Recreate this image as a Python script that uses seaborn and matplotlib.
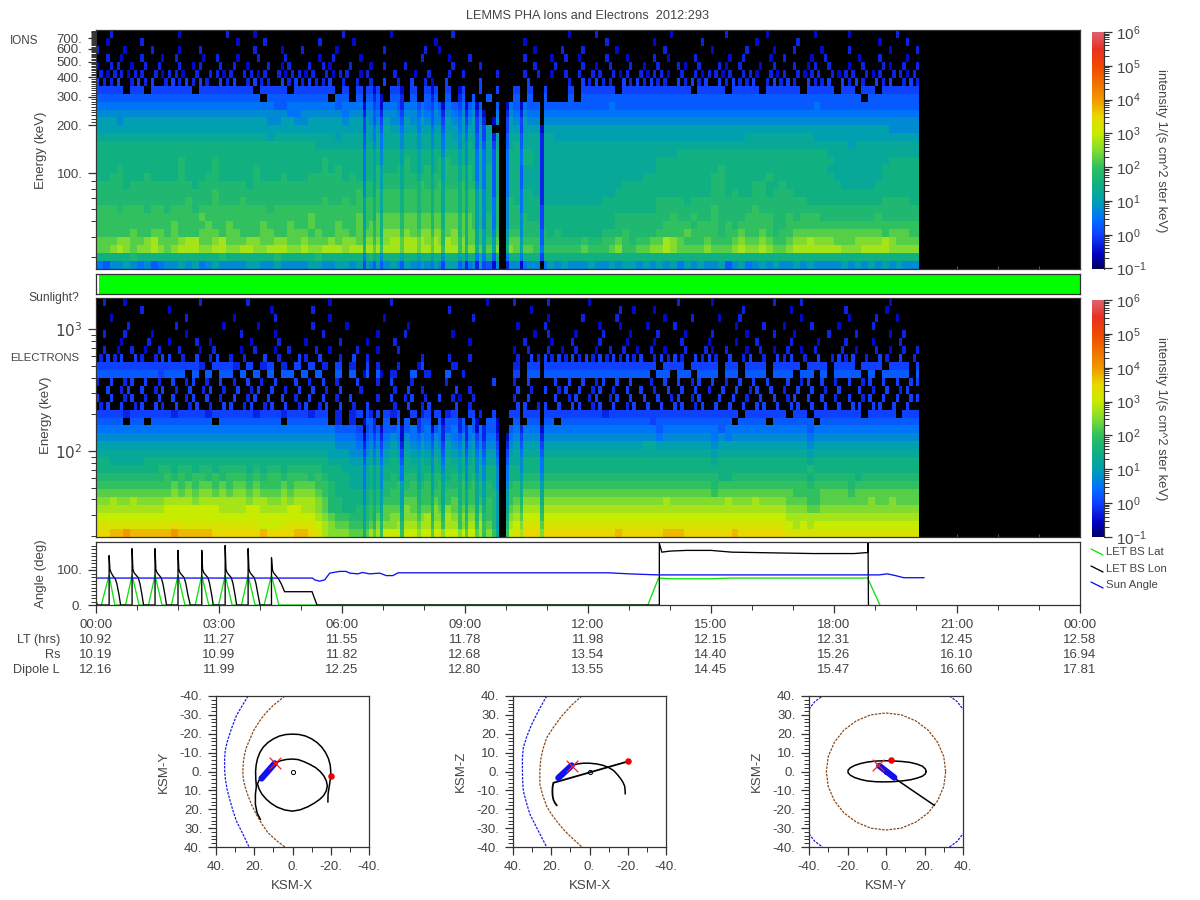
import numpy as np
import pandas as pd
import seaborn as sns
import matplotlib
matplotlib.use("Agg")
import matplotlib.pyplot as plt
from matplotlib.colors import LinearSegmentedColormap, LogNorm
from matplotlib.lines import Line2D

sns.set_theme(style="white")
plt.rcParams["font.family"] = ["Liberation Sans", "DejaVu Sans"]
plt.rcParams["font.size"] = 9.5
plt.rcParams["axes.unicode_minus"] = False

TXT = "#444444"
EDGE = "#333333"
MAJOR = 5.8
MINOR = 3.4

# spectrogram cells: one char per 10 minutes, high energy at the top
# value is int(char, 36) quarter decades above 10^-0.5, '.' means no counts
ion_rows = [
    "..1....... ..0......1 ...0...... ......1... ...0...... ..1....... .........0 ...1...... ....0..... ..1.....0. .....0.... 0......1.. .",
    ".0....1... .......... 0...1..... ..1....0.. .1.......0 ......1... ..0....... ....1..... .0......1. ......0... ..1....... ....0...1. .",
    "1...0...1. ..0..1.... ...1...0.. 1....0.... ..1.....1. 0...1..... ....0...1. .1....0... ...1...... 0....1...0 ..1...0... 1.....0... 1",
    ".1.0..1..0 .1...0.1.. 0..1...1.. ..0.1...0. 1...0..1.. .0..1.0... ..1...0.1. 0...1..0.. .1.0...1.. ..0.1...0. 1...0.1... .0..1...0. 0",
    "0.11.0.1.1 ..1.01..1. 1.0..1.01. .1.10..1.. 0.1..1.0.1 ..1.0.1... 1...10.1.. .1.0.1..1. 0.1..10.1. .10.1..0.1 ..1.01.1.. 0.1..10.1. 1",
    "1011011.10 110.1.1101 .1101.1011 01.1011.01 10.11.0.1. .1.1..1.1. ..1.1.0.1. 1.11.101.1 0110.1.101 101.110.10 1.1011.101 1.101.1101 1",
    "2112.1212. 1212121.21 2.1211.212 12112.1.12 1.2.1.2.12 .2.1..2.2. ...2.1...1 .21211.212 1211.21212 .212112.12 121.2112.2 121.212.12 1",
    "2222.22.22 2222.22222 222.2222.2 22222.2.22 22.22.2.22 .2.2..2.2. .2.2.2...2 .22222.222 2222222.22 22.2222.22 222.2222.2 2.22.22222 2",
    "3333333333 3333333333 3333.33333 3333.33.33 33.33.3.33 .3.3.3.3.. .3.3.3...3 .333333333 3333333333 3333333333 3333333333 33.3333333 3",
    "4444444444 4444444444 4444443344 4444434444 4344344434 3434343.3. 4343333333 3333343333 3333333333 3333333333 3333343333 3333333333 3",
    "5555555555 5555555555 5555555544 5555554555 5455455545 4545454.4. 5454444444 4444444444 4444444444 4444444444 4444444444 4444444444 4",
    "6665666666 6666666666 6666655665 5666665666 5565565655 5656565.5. 6565555555 5555555555 5555555555 5555555555 5555555555 5555555555 5",
    "6666666666 6666666666 6666666666 6666666666 6676666666 66666666.. 6666666666 6666666666 6666666666 6666666666 6666666666 6666665555 5",
    "7777777777 7777777777 7777767777 7777767777 6777777777 776777666. 7777777666 6666666666 6666666666 6666677777 7777766666 6666666666 6",
    "8888888888 8888888888 8888888888 8877777777 7777777777 777787777. 7877777777 7777777777 7777777777 7777777777 7777777777 6777777777 7",
    "8888888888 8888888888 8888888888 8888888888 8888888888 888888878. 8888777777 7777777777 7777788888 8888888888 8888888777 7777777777 7",
    "8888888888 8898888988 8888888888 8889888888 8888898888 998888878. 8888777777 7777777777 7788888888 8888888888 8888888877 7777778888 8",
    "8889888888 8898888988 8889888888 8889898888 8988998898 999998888. 8877777777 7777777777 7788888888 8988888888 8888888777 7777788888 8",
    "8899888988 8898889988 8889888988 8999998988 8999999999 999998888. 8877777777 7777777777 8888888888 9988888898 8888888877 7777788888 8",
    "9999899999 9999899999 9989999999 9999999999 9999999a99 a99a99888. 8877777777 7777777888 8888888888 9988889988 9888888887 7777888888 8",
    "9999999999 9999999a99 9999999999 99999999a9 9aaaaaaaaa aaaaaa988. 8888777777 7777778888 8888888888 9989889989 9988888888 8888888888 8",
    "9999999999 999a999a99 9a99999999 999a99a9aa aaaaaaaaaa aaaaaa989. 9888877777 7777888888 8899998999 9999999999 9999888888 8888899998 8",
    "aaa9aaa9aa 9aaa9aaaaa aaaaa9aaaa aaaaaaaaaa aaaaaaaaaa aaaaaa989. 9988888888 8888888888 8899999999 a99999a999 9999999999 9999999999 9",
    "aaaaaaaaaa aaaaabaaaa aaaaaaaaaa abaaaaaaba abbbbbbbbb bbbbba999. 9998888888 8888889999 9999a99a99 a9999aaaa9 9a9aaa9999 9999a99999 9",
    "aaaaaaaaaa abaaaabaab aaaabaaaba abaaabaaba bbbbbbbbbb bbbbba999. 9999988888 8888889999 999aaaa9aa a9a9aaaaa9 9aaaaaaaaa aaaaaaaaaa a",
    "aaaaabaabb abaaabbbab baaabbaabb babaabbabb bbccccbccc cbcbbba9a. aa99998988 8888999a99 99aaaabaaa a9aabaaba9 aabbbbbbbb bbbbbabbba a",
    "bbbccbbcdb bbcddbbcdb bbccbbccbb cbbbcbccbc cccdddddcd cdccbbaab. bbaaa99999 9a99aaba9a abbdcbaaab aaabcbbcba abccdcccbb bccccdcbbb b",
    "bbcdcbccdc bcdddccddc cddccdddcc dccdddcddd dddddddddd dddcccbbc. cbbbaaaaaa abaaabcaab bccdcbbbbc bbbcdccdcb bcdddddddc ccddddcccc c",
    "8888898888 8888888898 8888889888 8898888888 9888888888 888888888. 8888888888 8888888888 8888888888 8888888888 8888888888 8888888888 8",
    "4355654534 5565645655 5566556555 5665566566 5656565656 566545635. 5545546565 5565565665 6565646565 5635645656 5565655556 5656565655 5",
]
electron_rows = [
    ".1..0..... .....1.... ..1....... ....0..... ...1...... .......0.. .1....1... ..0....... .....1.... 0........1 ...1...... ......0... .",
    "......1... 0......... .....0.... .1........ .......... .1........ ...0...... ......1.0. .0........ ....1..... .0.......1 .....0.... .",
    "..0....... ...1...... 0.....1... ....0..... ..0....... .....1.... 0.....0... .1....1... ...0...1.. .0..1..... ...0...... 0...1..0.. .",
    "....1..... .1......0. ...0...... .1....0... .....0.... .......... .0...1.... ...0..0... 0...1..... ...0...1.. 0...1...0. ...1...... 0",
    ".1..1...0. ...0...... .1....0... ...1...... .0...1.... ..0....... ....0.1... 0...1...0. ..1...0... 1....0...1 ..0....1.. .1....0.1. .",
    "...0...1.. 0...1.0... ..0...1... 0....1...0 ...1...... 0...0..... ..1...0..1 ...1...0.. .0...1...0 ...0..1... .1...0...1 ...0...1.. 1",
    ".1.0.1.0.1 ..1..0.1.. .0.1..0.1. ..1.0...1. .0..1..0.. ...1...... .0.1..1.0. 1..0.1.1.0 .1.0..1..1 0.1..0.1.0 .1.0.1...1 .0..1.0.1. 1",
    "1212.21.12 2.1.2.12.1 .1..2.1..2 1.2..1.2.1 ....1..1.. .1..1..... .1.2121212 1212121212 .12121.212 1.2.12.1.2 12.1.2.121 2.1.21.2.1 2",
    "2222222222 222221.222 1.2.12.1.2 .2.1.2.1.2 .1..1..2.. ..1....... .1.2222222 2222222222 22.222.222 2.22.222.2 222.222.22 2.222.222. 2",
    "3333333332 333.3.3.33 .3.3.3.33. 3.3..3.3.3 .3.1..3.1. .3.1...... .2.3333333 3333333333 3.33.33.33 3.33.333.3 33.33.3.33 33.3.3333. 3",
    "1.2.12.2.1 .2.12.1.2. 1.2.1.2..2 .1.2.1..2. .1.2..1... .1......2. .1.2.1.2.2 .2.12.2.2. .1.2.2.12. 2.1.2.2.2. .2.12.2.1. 2.12.2.2.2 2",
    ".2.12.2.12 .1.2.12.1. 2.12.2.1.2 .2.1.2..1. .2.1.2.1.. 1.2.1...1. .2.1.2.12. 2.12.1.2.2 .1.2.2.2.1 .2.2.12.2. 1.2.2.1.2. .2.1.2.12. 2",
    "2.2.12.1.2 .2.12.2.1. 2.12.2.2.1 .2.2.1.2.1 .1.2.12.1. 2.12.1.... .1.2.2.2.1 2.12.12.2. 2.2.12.12. .2.2.1.2.2 .12.2.2.1. 2.12.2.2.2 2",
    "12.2.12.21 .2.12.1.22 .12.12.2.1 2.12.2.1.2 .2.1.2.12. 2.2.12.... .22.12.2.2 2.12.2.12. 2.2.22.12. 2.2.2.22.2 .22.2.2.2. 22.22.2.2. 2",
    "2222122222 2122221222 2221222122 2122.1.122 12212.2122 212.221.2. 2222222222 2222122222 2222222222 2222.22222 2.22.22222 22.2222.22 2",
    "3333.33.33 3333333.33 3333333.33 3333.1.1.3 3.3.33.33. 3333.3.33. .3.3333.33 3333333333 3233333333 333.3333.3 33333.3333 3333333333 3",
    "4444444444 4444444444 4444444444 4444433322 3333434343 434343433. 3444444444 4444444444 4434444444 4344444444 4444344444 4444444444 4",
    "5555555555 5555555555 5555555555 5555544433 4445454545 454545444. 4555555555 5555555555 5545555555 4545555555 5555455555 5555555555 5",
    "6666666666 6666666666 6666666666 6666655544 5556565656 565656555. 5666666666 6666666666 7766666666 5666666666 6666566666 6666666666 6",
    "7777777777 7777777777 7777777777 7777666555 6667676767 676767666. 6777777777 7777777777 7777777777 6777777777 7777677777 7777777777 7",
    "8877777888 8888888888 8888888888 8888777666 7778787878 787878777. 7788888888 8888888888 8888888888 7888888888 8888788888 8888888888 8",
    "8888888889 9899899899 9989899899 9998887777 8888888888 888888888. 8888888888 8888888888 8888888888 8888888888 8888988888 8888888888 8",
    "9999999999 a9a9aa9a9a aa9a9aa9aa a9a9888777 8889899899 989989888. 8899999999 9999999999 9999999999 9889999999 9999899999 9899999999 9",
    "aaaaaaaaaa abababbaba bbabaaabab bbaa988777 8899a9a9a9 a99a9a998. 9aaaaaaaaa aaaaaaaaaa aaaaaaaaaa 9aaaaaaaaa aaaa9aaaaa 9aaaaaaaaa a",
    "bbbbbbbbbb bcbcbccbcb ccbcbbbcbc ccba988888 999aaaaaaa aaaaaa999. aabbbbbbbb bbbbbbbbbb bbbbbbbbbb abbbbbbbbb bbaaaabbbb abbbbbbbbb b",
    "ccdccdcccc ddddcddddd ddcddccdcd ddcb998888 99aaabbaab aabaaaaa9. abcccccccc cccccccccc cccdcccccc ccdcccdccc cbbbaabbbb bbbcbbcbbb b",
    "dddddddddd eeeeeeeedd ddeeddddee ddcb998899 aabbbcbbbc bcbbbbba9. bcdddddddd dddddddddd dddddddddd dddddddddd dcccbbcccc cccccccccc c",
    "eeeeeeeeee eeeeeeeeee eeeeeeeeee eedcbaa999 abbcccccdc cdccccca9. cdeeeeeeee eeeeeeeeee eeeeeeeeee eeeeeeeeee eddddddddd dddddddddd d",
    "ffffffffff fgffffffff ffffeeefff ffedcbbaaa bcccdddddd dddcdddb9. deffffffff ffffffffff ffffffffff ffffffffff fededeeeee eeeeeeeeee e",
    "gghhihhhhh hihhhhhggg gggghggggh hgfdcccbbb ddeeeeeeee feeeeedca. efgggggggg gggggghggg ggghhhgggg ggghgggggg gfffffffff ffffffffff f",
]
# narrow dropouts seen in both spectrograms: hour and depth in decades
ion_drop_hours = [6.51, 6.8, 6.98, 7.46, 7.9, 8.2, 8.49, 8.88, 9.05, 9.29, 9.44, 9.73, 10.02, 10.41, 10.9]
ion_drop_depth = [1.0, 0.5, 0.75, 0.5, 0.4, 0.5, 0.75, 0.5, 0.75, 1.0, 1.0, 1.25, 1.0, 1.0, 1.5]
electron_drop_hours = [6.51, 6.8, 6.98, 7.46, 7.9, 8.2, 8.49, 8.88, 9.05, 9.29, 9.44, 9.77, 10.02, 10.41, 10.9]
electron_drop_depth = [0.75, 0.5, 0.75, 1.0, 0.4, 0.75, 0.75, 0.5, 0.75, 0.75, 0.75, 0.75, 1.0, 0.75, 1.0]
# the noisy rows hold scattered counts, one 5 minute cell wide
ion_sparse_rows = [0, 1, 2, 3, 4, 5, 6]
electron_sparse_rows = [0, 1, 2, 3, 4, 5, 6, 7, 10, 11, 12, 13]

sunlight_flags = [0] + [1] * 287

# angle panel, hours and degrees
lon_hours = [0.0, 0.03, 0.32, 0.32, 0.34, 0.37, 0.42, 0.47, 0.51, 0.56, 0.60,
             0.88, 0.88, 0.90, 0.93, 0.98, 1.03, 1.07, 1.12, 1.16,
             1.44, 1.44, 1.46, 1.49, 1.54, 1.59, 1.63, 1.68, 1.72,
             2.00, 2.00, 2.02, 2.05, 2.10, 2.15, 2.19, 2.24, 2.30,
             2.58, 2.58, 2.60, 2.63, 2.68, 2.73, 2.77, 2.82, 2.86,
             3.15, 3.15, 3.17, 3.20, 3.25, 3.30, 3.34, 3.39, 3.43,
             3.71, 3.71, 3.73, 3.76, 3.81, 3.86, 3.90, 3.95, 4.00,
             4.28, 4.28, 4.30, 4.33, 4.38, 4.45, 4.52, 4.60, 5.27, 5.39,
             13.74, 13.74, 13.80, 14.0, 14.4, 15.0, 15.5, 16.5, 17.5, 18.5, 18.82, 18.83, 18.84]
lon_values = [13, 0, 0, 141, 102, 92, 82, 75, 60, 30, 0,
              0, 161, 102, 92, 85, 78, 62, 30, 0,
              0, 161, 102, 92, 85, 78, 62, 30, 0,
              0, 156, 102, 92, 85, 78, 62, 30, 0,
              0, 156, 102, 92, 85, 78, 62, 30, 0,
              0, 170, 102, 92, 85, 78, 62, 30, 0,
              0, 161, 102, 92, 85, 78, 62, 30, 0,
              0, 135, 102, 92, 85, 75, 60, 38, 38, 0,
              0, 176, 151, 154, 156, 156, 151, 149, 147, 147, 150, 178, 0]
lat_hours = [0.13, 0.32, 0.46, 0.72, 0.88, 1.05, 1.28, 1.44, 1.61, 1.84, 2.0, 2.17,
             2.42, 2.58, 2.75, 2.99, 3.15, 3.32, 3.55, 3.71, 3.88, 4.10, 4.28, 4.46,
             13.46, 13.72, 14.0, 15.0, 15.5, 18.82, 19.12]
lat_values = [0, 85, 0, 0, 85, 0, 0, 85, 0, 0, 85, 0,
              0, 85, 0, 0, 85, 0, 0, 85, 0, 0, 85, 0,
              0, 77, 75, 75, 77, 77, 0]
sun_hours = [0.0, 5.28, 5.33, 5.45, 5.58, 5.7, 5.94, 6.1, 6.19, 6.39, 6.5, 6.67, 6.92, 7.08, 7.24,
             7.37, 12.5, 13.0, 13.7, 18.8, 19.1, 19.3, 19.5, 19.7, 20.2]
sun_values = [77, 77, 72, 68, 72, 91, 96, 96, 91, 89, 93, 89, 91, 84, 84,
              92, 92, 89, 86, 86, 86, 89, 84, 78, 78]

time_labels = ["00:00", "03:00", "06:00", "09:00", "12:00", "15:00", "18:00", "21:00", "00:00"]
lt_labels = ["10.92", "11.27", "11.55", "11.78", "11.98", "12.15", "12.31", "12.45", "12.58"]
rs_labels = ["10.19", "10.99", "11.82", "12.68", "13.54", "14.40", "15.26", "16.10", "16.94"]
dipole_labels = ["12.16", "11.99", "12.25", "12.80", "13.55", "14.45", "15.47", "16.60", "17.81"]

# orbit views
xy_outer_x = [-18.5, -18.6, -19.2, -19.8, -20, -19.7, -18.8, -17.3, -15.3, -12.9, -10, -6.8, -3.5, 0, 3.5, 6.8, 10, 12.9, 15.3, 17.1, 18.3, 19, 19.3, 19.2, 18.9, 19.4, 19.4, 18.5, 16.8]
xy_outer_y = [16.2, 12, 8, 4, 0, -3.5, -6.8, -10, -12.9, -15.3, -17.3, -18.8, -19.6, -19.8, -19.6, -18.8, -17.3, -15.3, -12.9, -10, -6.8, -3.5, 0, 4, 8, 12, 17.4, 22, 25.4]
xy_inner_x = [9.3, 6, 3, 0, -3, -6, -9, -12, -14.5, -16.5, -17.7, -18.2, -17.7, -16.3, -14.3, -11.5, -8, -4, 0, 4, 8, 11, 13.6, 16, 17.6, 18.3, 17.6, 16.2]
xy_inner_y = [-4.3, -5.8, -6.4, -6.6, -6.3, -5.2, -3.8, -2.1, 0, 2.5, 5, 7.6, 10.2, 12.7, 14.7, 16.7, 18.7, 20.3, 21, 20.4, 18.9, 17, 14.8, 12, 9, 6.5, 4.8, 3.7]
xz_arc_x = [-18.7, -18.6, -18.4, -17.4, -16, -14.4, -12.6, -10.2, -7.3, -3.8, 0, 3, 5.8, 8, 10.1]
xz_arc_y = [-11.9, -9.8, -7.8, -5.5, -3.4, -1.4, 0.5, 2, 3.2, 4, 4.4, 4.4, 4.1, 3.5, 2.8]
xz_line_x = [-20, 18.9, 19.3, 19.4, 19.3, 18.9, 18.1, 17.1]
xz_line_y = [5.3, -6, -8.2, -10.4, -12.7, -14.9, -16.6, -18]
yz_ellipse_x = [20.9, 20.4, 18.9, 16.2, 12.6, 8.3, 3.5, -1, -5.5, -9.7, -13.3, -16.3, -18.5, -19.7, -19.7, -18.5, -16.3, -13.3, -9.7, -5.5, -1, 3.5, 8.3, 12.6, 16.2, 18.9, 20.4, 20.9]
yz_ellipse_y = [0, 1.4, 2.8, 3.9, 4.8, 5.3, 5.6, 5.7, 5.5, 5, 4.2, 3.2, 2, 0.7, -0.7, -2, -3.2, -4.2, -5, -5.4, -5.5, -5.4, -5, -4.4, -3.5, -2.5, -1.3, 0]
yz_tail_x = [5.2, 25.2]
yz_tail_y = [-4.1, -18]

xy_brown_x = [4, 7, 10.1, 13, 15.4, 18, 20.3, 22.3, 24.1, 25.2, 25.7, 26, 25.7, 24.7, 23.2, 21.2, 18.9, 16, 12.8, 8.5, 4]
xy_brown_y = [-40, -37.5, -35, -32, -29.3, -25.5, -21.7, -17, -12.8, -8.5, -4.8, 0, 4.1, 8.5, 13, 18, 22.8, 27.8, 32.5, 36.5, 40]
xy_blue_x = [23.2, 26.2, 29.3, 32, 34.2, 35.2, 35.5, 35.5, 35.1, 34.2, 32.8, 31.2, 29.3, 26, 22.7]
xy_blue_y = [-40, -35, -29.7, -22.5, -15.5, -11, -6.6, -1, 4, 9.5, 14.8, 20.5, 26.3, 33, 40]
xz_brown_x = [4, 9, 14.5, 18.8, 22.4, 24.3, 25.5, 26, 25.9, 24.5, 22.4, 20, 17.1, 13.8, 10.1, 7, 4]
xz_brown_y = [40, 35.5, 29.4, 23.5, 17.9, 12, 6.4, 0, -6.9, -12.5, -18.4, -22.5, -26.4, -30.5, -34.3, -37.2, -40]
xz_blue_x = [22.4, 26.5, 30.2, 32.8, 34.6, 35.1, 35.1, 35, 34.6, 33, 31.1, 27, 22.4]
xz_blue_y = [40, 32.5, 25, 18.5, 12.6, 7, 1.9, -4, -10.4, -16.5, -22.8, -31, -40]
yz_brown_x = [31, 30, 26.8, 21.9, 15.5, 8, 0, -8, -15.5, -21.9, -26.8, -30, -31, -30, -26.8, -21.9, -15.5, -8, 0, 8, 15.5, 21.9, 26.8, 30, 31]
yz_brown_y = [0, 8, 15.5, 21.9, 26.8, 30, 31, 30, 26.8, 21.9, 15.5, 8, 0, -8, -15.5, -21.9, -26.8, -30, -31, -30, -26.8, -21.9, -15.5, -8, 0]
yz_corner_x = [[-40, -37, -33], [33, 37, 40], [-40, -37, -33], [33, 37, 40]]
yz_corner_y = [[33, 37, 40], [40, 37, 33], [-33, -37, -40], [-40, -37, -33]]

xy_track = ([9.3, 16.2], [-4.3, 3.7])
xz_track = ([9.3, 16.3], [3.2, -3.4])
yz_track = ([-3.5, 4.3], [3, -3.2])
xy_now = (9.3, -4.3)
xz_now = (9.3, 3.0)
yz_now = (-4, 3.6)
xy_end = (-20, 2.5)
xz_end = (-20, 5.3)
yz_end = (2.6, 5.9)

colorbar_stops = [(-1, "#000060"), (-0.6, "#0000c0"), (0, "#1040ff"), (0.45, "#0070ff"), (1, "#00a0b0"),
                  (1.5, "#10b080"), (2, "#30c060"), (2.5, "#80dc30"), (3, "#c8ec00"), (3.5, "#e8d800"),
                  (4, "#f09800"), (4.5, "#f07000"), (5, "#f04800"), (5.5, "#e83020"), (5.8, "#e05050"), (6, "#e06070")]
intensity_cmap = LinearSegmentedColormap.from_list(
    "lemms", [((v + 1) / 7, c) for v, c in colorbar_stops], N=512)

fig = plt.figure(figsize=(12, 9), dpi=100, facecolor="white")


def axes_px(left, top, right, bottom):
    return fig.add_axes([left / 1200, 1 - bottom / 900, (right - left) / 1200, (bottom - top) / 900])


def frame(ax):
    for s in ax.spines.values():
        s.set_visible(True)
        s.set_color(EDGE)
        s.set_linewidth(0.9)


def rows_to_grid(rows, drop_hours, drop_depth, sparse_rows):
    cells = []
    for row in rows:
        row = row.replace(" ", "").ljust(121, ".")[:121]
        cells.append([np.nan if c == "." else int(c, 36) * 0.25 - 0.5 for c in row])
    grid = np.repeat(np.array(cells), 2, axis=1)[:, :241]
    for i in sparse_rows:
        grid[i, (i + 1) % 2::2] = np.nan
    for h, d in zip(drop_hours, drop_depth):
        grid[:, int(h * 12)] -= d
    grid[grid < -0.6] = np.nan
    # rest of the day has no data
    grid = np.hstack([grid, np.full((grid.shape[0], 288 - grid.shape[1]), np.nan)])
    return pd.DataFrame(10.0 ** grid)


def spectrogram(ax, cax, rows, drop_hours, drop_depth, sparse_rows):
    df = rows_to_grid(rows, drop_hours, drop_depth, sparse_rows)
    ax.set_facecolor("black")
    sns.heatmap(df, ax=ax, cbar_ax=cax, cmap=intensity_cmap, norm=LogNorm(1e-1, 1e6),
                xticklabels=False, yticklabels=False)
    frame(ax)
    ax.set_xticks([h * 12 for h in range(1, 24)])
    ax.tick_params(axis="x", which="major", direction="in", length=2.2, width=0.8, color="#555555", bottom=True)
    cb = ax.collections[0].colorbar
    cb.outline.set_visible(False)
    cax.add_line(Line2D([1, 1], [0, 1], transform=cax.transAxes, color=EDGE, lw=0.9, clip_on=False))
    cax.tick_params(axis="y", which="major", length=MAJOR, width=0.9, color=EDGE, labelcolor=TXT, labelsize=11, pad=3, right=True)
    cax.tick_params(axis="y", which="minor", length=MINOR, width=0.7, color=EDGE, right=True)
    pos = cax.get_position()
    fig.text(1161 / 1200, pos.y0 + pos.height * 0.5, "intensity 1/(s cm^2 ster keV)", rotation=270,
             ha="center", va="center", color=TXT, fontsize=9.4)


def energy_pos(e, lo, hi, nrows):
    return (np.log10(hi) - np.log10(e)) / (np.log10(hi) - np.log10(lo)) * nrows


def energy_ticks(ax, major, labels, minor, lo, hi, nrows, size):
    ax.set_yticks([energy_pos(e, lo, hi, nrows) for e in major])
    ax.set_yticklabels(labels)
    ax.set_yticks([energy_pos(e, lo, hi, nrows) for e in minor], minor=True)
    ax.tick_params(axis="y", which="major", length=MAJOR, width=0.9, color=EDGE, labelcolor=TXT, labelsize=size, pad=4, left=True, labelrotation=0)
    ax.tick_params(axis="y", which="minor", length=MINOR, width=0.7, color=EDGE, left=True)


def orbit_line(ax, xs, ys, color="black", lw=1.1, ls="-"):
    sns.lineplot(x=xs, y=ys, ax=ax, color=color, linewidth=lw, linestyle=ls,
                 sort=False, estimator=None, legend=False)


def orbit_panel(ax, xlim, ylim, xlabel, ylabel):
    ax.set_xlim(*xlim)
    ax.set_ylim(*ylim)
    ax.set_xlabel(xlabel, color=TXT, fontsize=9.5, labelpad=5)
    ax.set_ylabel(ylabel, color=TXT, fontsize=9.5, labelpad=7)
    ax.set_xticks([-40, -20, 0, 20, 40])
    ax.set_xticklabels(["%d." % v for v in [-40, -20, 0, 20, 40]])
    ax.set_xticks([-30, -10, 10, 30], minor=True)
    ax.set_yticks(range(-40, 41, 10))
    ax.set_yticklabels(["%d." % v for v in range(-40, 41, 10)])
    ax.set_yticks([v for v in range(-40, 41, 2) if v % 10], minor=True)
    ax.tick_params(axis="both", which="major", length=MAJOR, width=0.9, color=EDGE, labelcolor=TXT, labelsize=9.5, pad=4, bottom=True, left=True)
    ax.tick_params(axis="both", which="minor", length=MINOR, width=0.7, color=EDGE, bottom=True, left=True)
    frame(ax)
    sns.scatterplot(x=[0], y=[0], ax=ax, s=9, facecolor="white", edgecolor="black", linewidth=0.7, zorder=1.5, legend=False)


def orbit_marks(ax, track, now, end):
    orbit_line(ax, track[0], track[1], color="#1010f0", lw=4.5)
    sns.scatterplot(x=[now[0]], y=[now[1]], ax=ax, marker="x", s=70, color="#f02020", linewidth=0.9, zorder=5, legend=False)
    sns.scatterplot(x=[end[0]], y=[end[1]], ax=ax, marker="o", s=22, color="#f00000", linewidth=0, zorder=5, legend=False)


# ions
ax_ion = axes_px(96, 30, 1080, 268.5)
cax_ion = axes_px(1092, 32, 1104, 268.5)
spectrogram(ax_ion, cax_ion, ion_rows, ion_drop_hours, ion_drop_depth, ion_sparse_rows)
ion_major = [100, 200, 300, 400, 500, 600, 700]
ion_minor = [30, 40, 50, 60, 70, 80, 90] + [v for v in range(210, 790, 10) if v not in ion_major]
energy_ticks(ax_ion, ion_major, ["%d." % e for e in ion_major], ion_minor, 25.4, 787, len(ion_rows), 9.5)
fig.text(41 / 1200, 1 - 150 / 900, "Energy (keV)", rotation=90, ha="center", va="center", color=TXT, fontsize=9.5)
fig.text(10 / 1200, 1 - 41 / 900, "IONS", ha="left", va="center", color=TXT, fontsize=8.4)
fig.text(588 / 1200, 1 - 16 / 900, "LEMMS PHA Ions and Electrons  2012:293", ha="center", va="center", color=TXT, fontsize=9.2)

# sunlight strip
ax_sun = axes_px(96, 274, 1080, 294)
ax_sun.set_facecolor("white")
sun_frame = pd.DataFrame([sunlight_flags], dtype=float)
sns.heatmap(sun_frame, ax=ax_sun, mask=sun_frame == 0, cmap=["#00ff00"], cbar=False, xticklabels=False, yticklabels=False)
frame(ax_sun)
fig.text(79 / 1200, 1 - 298 / 900, "Sunlight?", ha="right", va="center", color=TXT, fontsize=8.7)

# electrons
ax_ele = axes_px(96, 298, 1080, 537)
cax_ele = axes_px(1092, 300, 1104, 537)
spectrogram(ax_ele, cax_ele, electron_rows, electron_drop_hours, electron_drop_depth, electron_sparse_rows)
ele_minor = [20, 30, 40, 50, 60, 70, 80, 90, 200, 300, 400, 500, 600, 700, 800, 900]
energy_ticks(ax_ele, [100, 1000], ["$10^{2}$", "$10^{3}$"], ele_minor, 19.7, 1795, len(electron_rows), 11)
fig.text(46 / 1200, 1 - 415 / 900, "Energy (keV)", rotation=90, ha="center", va="center", color=TXT, fontsize=9.5)
fig.text(10 / 1200, 1 - 358 / 900, "ELECTRONS", ha="left", va="center", color=TXT, fontsize=8.2)

# angle panel
ax_ang = axes_px(96, 542, 1080, 605)
sns.lineplot(x=lat_hours, y=lat_values, ax=ax_ang, color="#10e010", linewidth=0.95, sort=False, estimator=None, legend=False)
sns.lineplot(x=lon_hours, y=lon_values, ax=ax_ang, color="black", linewidth=0.95, sort=False, estimator=None, legend=False)
sns.lineplot(x=sun_hours, y=sun_values, ax=ax_ang, color="#1010f0", linewidth=0.95, sort=False, estimator=None, legend=False)
ax_ang.set_xlim(0, 24)
ax_ang.set_ylim(0, 180)
ax_ang.set_xticks(range(0, 25, 3))
ax_ang.set_xticklabels(time_labels)
ax_ang.set_xticks([h for h in range(24) if h % 3], minor=True)
ax_ang.set_yticks([0, 100])
ax_ang.set_yticklabels(["0.", "100."])
ax_ang.set_yticks([v for v in range(10, 180, 10) if v != 100], minor=True)
fig.text(41 / 1200, 1 - 574 / 900, "Angle (deg)", rotation=90, ha="center", va="center", color=TXT, fontsize=9.5)
ax_ang.tick_params(axis="both", which="major", length=MAJOR, width=0.9, color=EDGE, labelcolor=TXT, labelsize=9.5, bottom=True, left=True)
ax_ang.tick_params(axis="x", which="major", pad=4)
ax_ang.tick_params(axis="y", which="major", pad=4)
ax_ang.tick_params(axis="both", which="minor", length=MINOR, width=0.7, color=EDGE, bottom=True, left=True)
frame(ax_ang)

for px_y, row_name, labels in [(640, "LT (hrs)", lt_labels), (655, "Rs", rs_labels), (670, "Dipole L", dipole_labels)]:
    fig.text(60 / 1200, 1 - px_y / 900, row_name, ha="right", va="center", color=TXT, fontsize=9.2)
    for h, lab in zip(range(0, 25, 3), labels):
        fig.text((96 + h * 41) / 1200, 1 - px_y / 900, lab, ha="center", va="center", color=TXT, fontsize=9.5)

for px_y, name, col in [(552, "LET BS Lat", "#10e010"), (569, "LET BS Lon", "black"), (585, "Sun Angle", "#1010f0")]:
    fig.add_artist(Line2D([1091 / 1200, 1103 / 1200], [1 - (px_y - 3) / 900, 1 - (px_y + 3) / 900], color=col, lw=0.95))
    fig.text(1106 / 1200, 1 - px_y / 900, name, ha="left", va="center", color=TXT, fontsize=8.2)

# orbit views
ax_xy = axes_px(216, 696, 369, 847)
ax_xz = axes_px(513, 696, 666, 847)
ax_yz = axes_px(809, 696, 963, 847)
orbit_panel(ax_xy, (40, -40), (40, -40), "KSM-X", "KSM-Y")
orbit_panel(ax_xz, (40, -40), (-40, 40), "KSM-X", "KSM-Z")
orbit_panel(ax_yz, (-40, 40), (-40, 40), "KSM-Y", "KSM-Z")

orbit_line(ax_xy, xy_brown_x, xy_brown_y, color="#8b4a18", lw=0.9, ls=(0, (2, 1)))
orbit_line(ax_xy, xy_blue_x, xy_blue_y, color="#1a1ae8", lw=0.9, ls=(0, (2, 1)))
orbit_line(ax_xy, xy_outer_x, xy_outer_y)
orbit_line(ax_xy, xy_inner_x, xy_inner_y)
orbit_marks(ax_xy, xy_track, xy_now, xy_end)

orbit_line(ax_xz, xz_brown_x, xz_brown_y, color="#8b4a18", lw=0.9, ls=(0, (2, 1)))
orbit_line(ax_xz, xz_blue_x, xz_blue_y, color="#1a1ae8", lw=0.9, ls=(0, (2, 1)))
orbit_line(ax_xz, xz_arc_x, xz_arc_y)
orbit_line(ax_xz, xz_line_x, xz_line_y, lw=1.3)
orbit_marks(ax_xz, xz_track, xz_now, xz_end)

orbit_line(ax_yz, yz_brown_x, yz_brown_y, color="#8b4a18", lw=0.9, ls=(0, (2, 1)))
for cx, cy in zip(yz_corner_x, yz_corner_y):
    orbit_line(ax_yz, cx, cy, color="#1a1ae8", lw=0.9, ls=(0, (2, 1)))
orbit_line(ax_yz, yz_ellipse_x, yz_ellipse_y)
orbit_line(ax_yz, yz_tail_x, yz_tail_y)
orbit_marks(ax_yz, yz_track, yz_now, yz_end)

fig.savefig("out.png", dpi=100)
